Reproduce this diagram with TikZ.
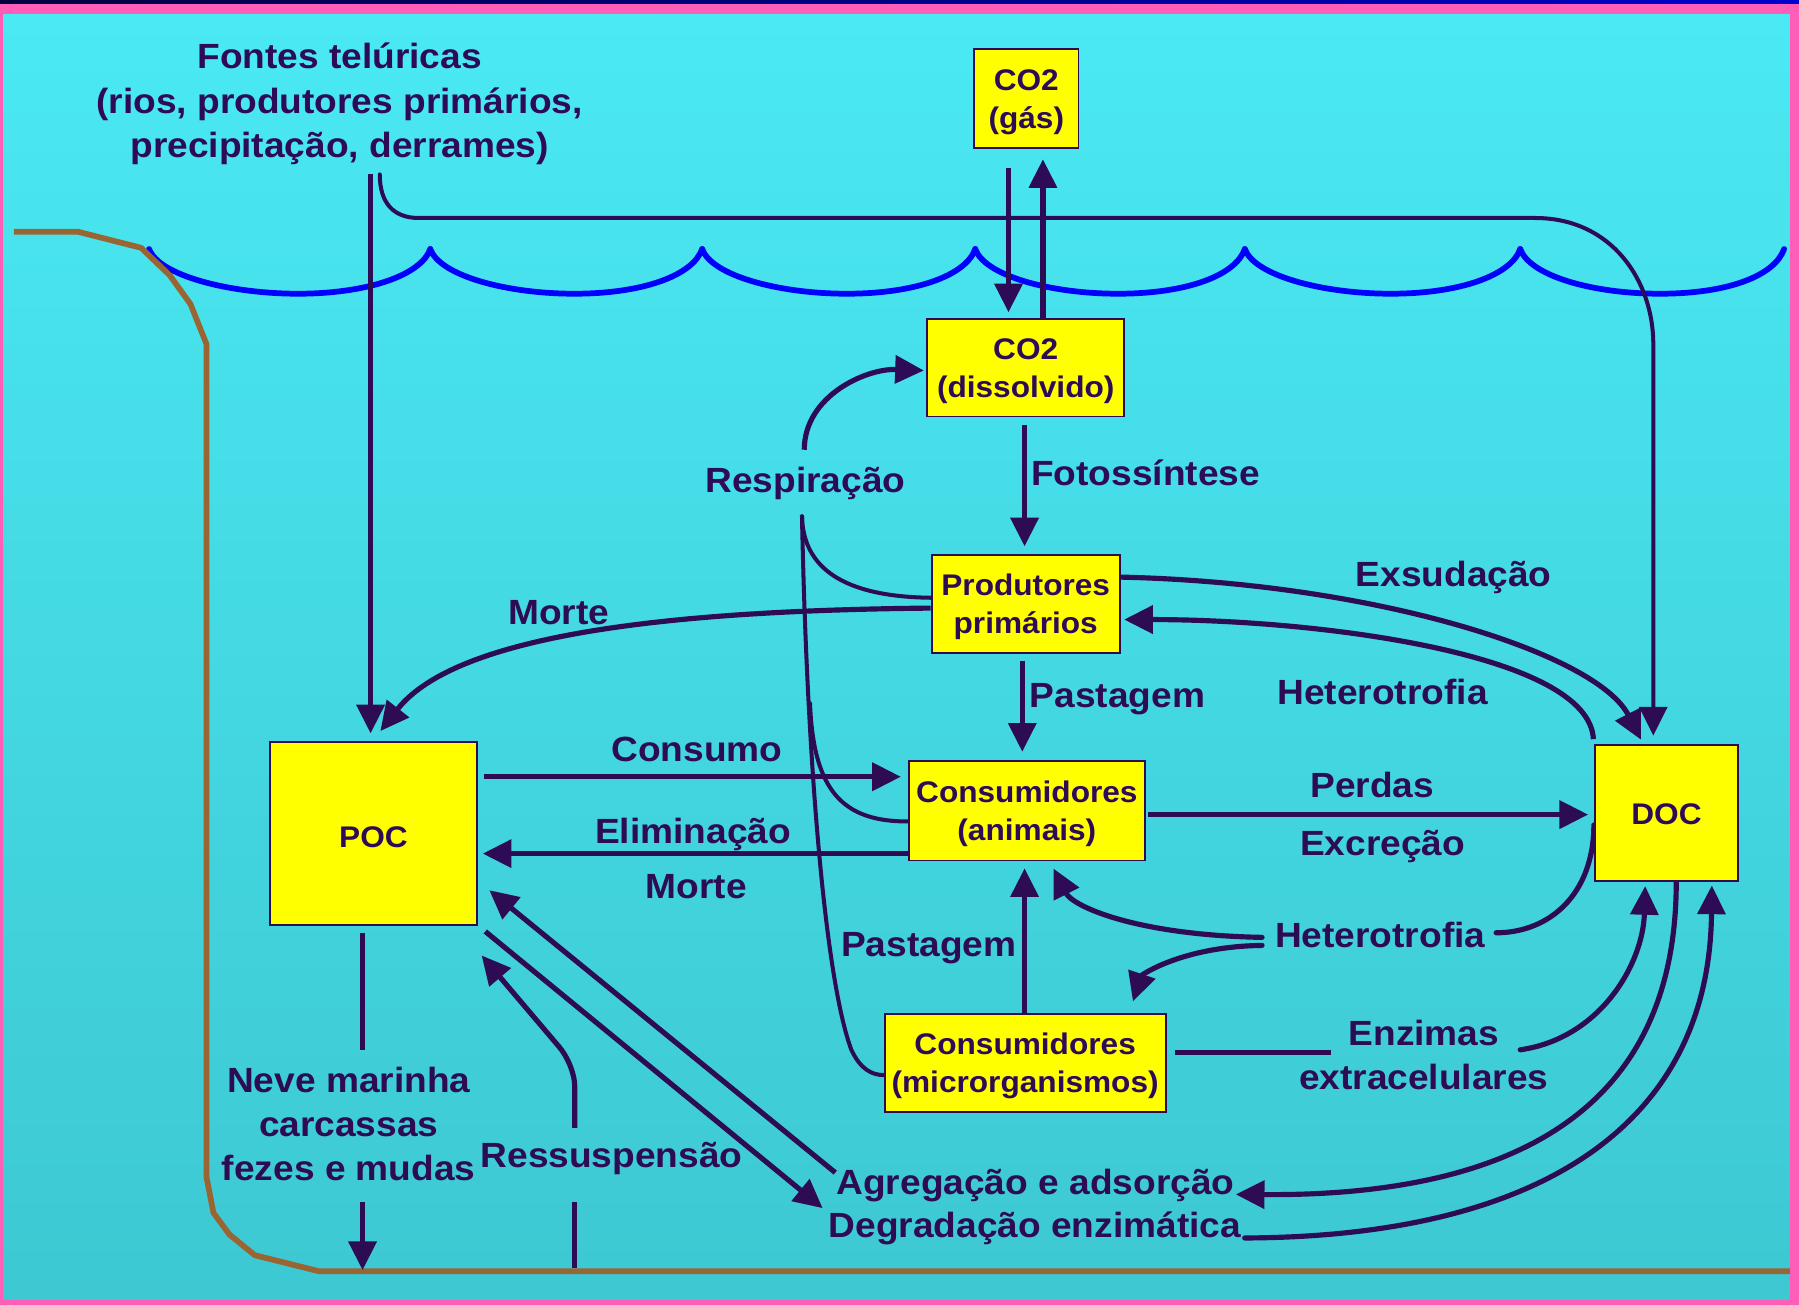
\documentclass[tikz,border=0pt]{standalone}
\usepackage{fontspec}
\setmainfont{Liberation Sans}[FakeStretch=1.06]
\usetikzlibrary{arrows.meta,calc}
\pgfdeclarelayer{bg}
\pgfdeclarelayer{lines}
\pgfsetlayers{bg,lines,main}
\definecolor{ink}{HTML}{2E0B55}
\definecolor{bgtop}{HTML}{4AE9F3}
\definecolor{bgbot}{HTML}{3DC8D2}
\definecolor{framepink}{HTML}{FF5EB8}
\definecolor{topdark}{HTML}{000040}
\definecolor{topblue}{HTML}{0000D0}
\definecolor{wavecol}{HTML}{0000FF}
\definecolor{soil}{HTML}{996633}
\definecolor{boxy}{HTML}{FFFF00}
\begin{document}
\begin{tikzpicture}[x=1pt,y=-1pt,
  lbl/.style={font=\fontsize{30.5}{38.5}\selectfont\bfseries,text=ink,inner sep=0pt,anchor=base,align=center},
  boxnode/.style={draw=ink,line width=1.6pt,fill=boxy,inner sep=0pt,align=center,text=ink,text depth=0pt,font=\fontsize{26}{33}\selectfont\bfseries},
  link/.style={draw=ink,line width=4.5pt},
  fine/.style={draw=ink,line width=3.5pt,line cap=round},
  arw/.style={-{Triangle[length=25pt,width=24pt]}},
]
\useasboundingbox (0,0) rectangle (1568,1137);

\begin{pgfonlayer}{bg}
\fill[framepink] (0,0) rectangle (1568,1137);
\shade[top color=bgtop,bottom color=bgbot] (3,13) rectangle (1560,1133);
\shade[left color=topdark,right color=topblue] (0,0) rectangle (1568,3);
% water surface
\foreach \a/\b in {130/375,375/612,612/850,850/1085,1085/1325,1325/1555}{
  \pgfmathsetmacro\m{\a+0.53*(\b-\a)}
  \draw[wavecol,line width=5pt,line cap=round] (\a,217) .. controls (\a+8,240) and (\m-60,256) .. (\m,256) .. controls (\m+60,256) and (\b-8,240) .. (\b,217);
}
% sea floor
\draw[soil,line width=5pt,line join=round] (12,202) -- (68,202) -- (123,216) -- (148,240) -- (166,265) -- (180,300) -- (180,1026) -- (186,1057) -- (200,1076) -- (222,1094) -- (278,1108) -- (1560,1108);
\end{pgfonlayer}

% boxes
\node[boxnode,minimum width=91pt,minimum height=86pt] (gas) at (894.5,86) {CO2\\(gás)};
\node[boxnode,minimum width=172pt,minimum height=85pt] (diss) at (894,320.5) {CO2\\(dissolvido)};
\node[boxnode,minimum width=164pt,minimum height=85pt] (prod) at (894,526.5) {Produtores\\primários};
\node[boxnode,minimum width=206pt,minimum height=87pt] (anim) at (895,706.5) {Consumidores\\(animais)};
\node[boxnode,minimum width=245pt,minimum height=85pt] (micro) at (893.5,926.5) {Consumidores\\(microrganismos)};
\node[boxnode,minimum width=181pt,minimum height=159pt] (poc) at (325.5,726.5) {\raisebox{-6pt}{POC}};
\node[boxnode,minimum width=125pt,minimum height=119pt] (doc) at (1452.5,708.5) {\raisebox{-2pt}{DOC}};

% labels (base anchor = baseline of the last line)
\node[lbl] (fontes) at (296,137) {Fontes telúricas\\(rios, produtores primários,\\precipitação, derrames)};
\node[lbl] (resp) at (702,429) {Respiração};
\node[lbl] (foto) at (998.5,423) {Fotossíntese};
\node[lbl] (exsu) at (1267,511) {Exsudação};
\node[lbl] (morte1) at (487,544) {Morte};
\node[lbl] (past1) at (974,617) {Pastagem};
\node[lbl] (het1) at (1205,614) {Heterotrofia};
\node[lbl] (cons) at (607.5,664) {Consumo};
\node[lbl] (perd) at (1196,695) {Perdas};
\node[lbl] (elim) at (604,735) {Eliminação};
\node[lbl] (excr) at (1205,746) {Excreção};
\node[lbl] (morte2) at (607,783) {Morte};
\node[lbl] (past2) at (809.5,834) {Pastagem};
\node[lbl] (het2) at (1203,826) {Heterotrofia};
\node[lbl] (enz) at (1241,950) {Enzimas\\extracelulares};
\node[lbl] (ress) at (533,1018) {Ressuspensão};
\node[lbl] (neve) at (304,1029) {Neve marinha\\carcassas\\fezes e mudas};
\node[lbl] (agg) at (902.5,1041) {Agregação e adsorção};
\node[lbl] (deg) at (902,1079) {Degradação enzimática};

\begin{pgfonlayer}{lines}
% telluric sources
\coordinate (fsrc) at (323,152);
\draw[link,arw,shorten >=7pt] (fsrc) -- (fsrc |- poc.north);
\coordinate (fcurl) at (331,152);
\draw[fine,arw,shorten >=7pt] (fcurl) .. controls (331,177) and (343,190) .. (365,190) -- (1338,190) .. controls (1405,190) and (1441,245) .. (1441,300) -- ([xshift=-11.5pt]doc.north);
% gas exchange
\draw[link,arw,shorten <=17pt,shorten >=5pt] ([xshift=-15.5pt]gas.south) -- ([xshift=-15pt]diss.north);
\draw[link,arw,shorten >=9pt] ([xshift=15pt]diss.north) -- ([xshift=14.5pt]gas.south);
% photosynthesis
\draw[link,arw,shorten <=7pt,shorten >=7pt] ([xshift=-1pt]diss.south) -- ([xshift=-1pt]prod.north);
% respiration
\coordinate (rsrc) at (701,392);
\draw[link,arw,shorten >=2pt] (rsrc) .. controls (701,345) and (755,321) .. ([yshift=-2.5pt]diss.west);
\coordinate (rjoin) at (699,450);
\draw[fine] (rjoin) .. controls (700,495) and (735,520) .. ([yshift=5.5pt]prod.west);
\draw[fine] (rjoin) .. controls (703,650) and (718,850) .. (742,915) .. controls (750,932) and (760,937) .. ([yshift=-10.5pt]micro.west);
\coordinate (asrc) at (706,613);
\draw[fine] (asrc) .. controls (709,690) and (735,716) .. ([yshift=-9.5pt]anim.west);
% grazing
\draw[link,arw,shorten <=6pt,shorten >=7pt] ([xshift=-3pt]prod.south) -- ([xshift=-4pt]anim.north);
% death of producers
\draw[link,arw] ([yshift=-3.5pt]prod.west) .. controls (600,532) and (400,550) .. ([shift={(6,-9)}]poc.north);
% consumption / elimination / losses
\draw[link,arw,shorten <=5pt,shorten >=6pt] ([yshift=49.5pt]poc.east) -- ([yshift=29.5pt]anim.west);
\draw[link,arw,shorten >=4pt] ([yshift=-37.5pt]anim.west) -- ([yshift=-17.5pt]poc.east);
\draw[link,arw,shorten <=2pt,shorten >=5pt] ([yshift=-3.5pt]anim.east) -- ([yshift=-1.5pt]doc.west);
% exudation / heterotrophy
\draw[link,arw,shorten >=4pt] ([yshift=23.5pt]prod.east) .. controls (1200,508) and (1392,570) .. ([xshift=-20.5pt]doc.north);
\draw[link,arw,shorten <=4pt,shorten >=3pt] ([xshift=-63.5pt]doc.north) .. controls (1385,570) and (1150,540) .. ([yshift=-13.5pt]prod.east);
\coordinate (h2a) at (1304,813);
\coordinate (h2b) at (1100,817);
\coordinate (h2c) at (1100,824);
\draw[link,line cap=round] ([yshift=-10.5pt]doc.west) .. controls (1389,780) and (1350,813) .. (h2a);
\draw[link,arw,line cap=round,shorten >=7pt] (h2b) .. controls (990,815) and (935,790) .. ([xshift=20pt]anim.south);
\draw[link,arw,line cap=round,shorten >=11pt] (h2c) .. controls (1030,825) and (995,850) .. ([xshift=90.5pt]micro.north);
% microbes grazing
\draw[link,arw,shorten >=6pt] ([xshift=-0.5pt]micro.north) -- ([xshift=-2pt]anim.south);
% enzymes
\coordinate (enzl) at (1160,917);
\draw[link,shorten <=7pt] ([yshift=9.5pt]micro.east) -- (enzl);
\coordinate (enzr) at (1325,915);
\draw[link,arw,line cap=round,shorten >=3.5pt] (enzr) .. controls (1395,905) and (1432,840) .. ([xshift=-18.5pt]doc.south);
% DOC <-> aggregation / degradation
\draw[link,arw] ([xshift=8.5pt]doc.south) .. controls (1461,960) and (1330,1043) .. ([xshift=1pt]agg.base east);
\draw[link,arw,line cap=round,shorten >=3pt] ([xshift=3pt]deg.base east) .. controls (1350,1078) and (1490,975) .. ([xshift=39.5pt]doc.south);
% POC <-> aggregation / degradation
\coordinate (aggsrc) at (728,1022);
\draw[link,arw,shorten >=12.5pt] (aggsrc) -- ([yshift=-41.5pt]poc.east);
\coordinate (degin) at (717,1053);
\draw[link,arw,shorten <=8pt] (poc.south east) -- (degin);
% resuspension
\coordinate (rsA) at (501,983);
\draw[link,arw] (rsA) -- (501,948) .. controls (501,935) and (494,920) .. (487,912) -- ([shift={(3,26)}]poc.south east);
\coordinate (rsB) at (501,1048);
\coordinate (rsC) at (501,1105);
\draw[link] (rsB) -- (rsC);
% sinking
\draw[link,shorten <=6pt] ([xshift=-9.5pt]poc.south) -- ++(0,108);
\coordinate (snA) at (316,1048);
\coordinate (snB) at (316,1107);
\draw[link,arw] (snA) -- (snB);
\end{pgfonlayer}
\end{tikzpicture}
\end{document}
